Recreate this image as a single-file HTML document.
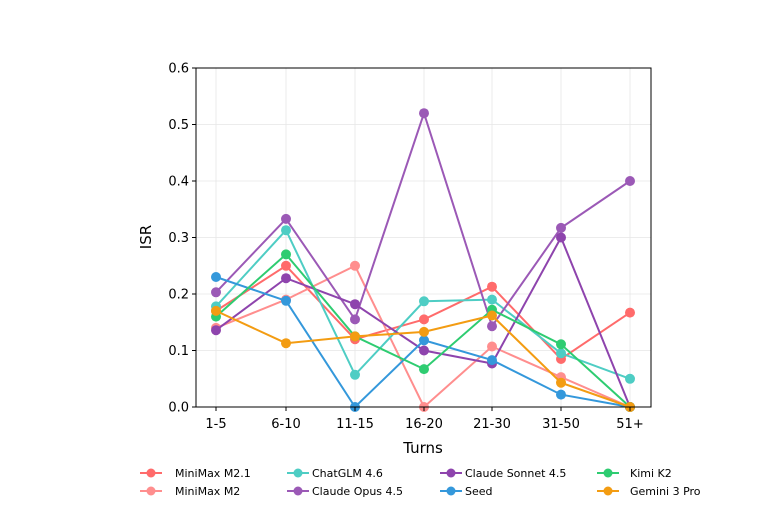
<!DOCTYPE html>
<html><head><meta charset="utf-8"><style>
html,body{margin:0;padding:0;background:#fff;}
svg{display:block;font-family:"DejaVu Sans","Liberation Sans",sans-serif;}
</style></head><body>
<svg id="c" width="762" height="526" viewBox="0 0 762 526" xmlns="http://www.w3.org/2000/svg"></svg>
<script>
const s=document.getElementById('c');
const L=196,R=651,T=68,B=407;
const xs=[216,286,355,424,492,561,630];
const Y=v=>B-v*565;
let h='';
for(const x of xs) h+=`<line x1="${x}" y1="${T}" x2="${x}" y2="${B}" stroke="#e6e6e6" stroke-width="0.8"/>`;
for(let i=0;i<=6;i++){const y=Y(i/10);h+=`<line x1="${L}" y1="${y}" x2="${R}" y2="${y}" stroke="#e6e6e6" stroke-width="0.8"/>`;}
const series=[
["MiniMax M2.1","#ff6b6b",[0.17,0.25,0.12,0.155,0.213,0.085,0.167]],
["MiniMax M2","#ff8e8e",[0.14,0.19,0.25,0.0,0.107,0.053,0.0]],
["ChatGLM 4.6","#4ecdc4",[0.178,0.313,0.057,0.187,0.19,0.095,0.05]],
["Claude Opus 4.5","#9b59b6",[0.203,0.333,0.155,0.52,0.143,0.317,0.4]],
["Claude Sonnet 4.5","#8e44ad",[0.136,0.228,0.182,0.1,0.077,0.3,0.0]],
["Seed","#3498db",[0.23,0.188,0.0,0.118,0.083,0.022,0.0]],
["Kimi K2","#2ecc71",[0.16,0.27,0.125,0.067,0.172,0.111,0.0]],
["Gemini 3 Pro","#f39c12",[0.17,0.113,0.125,0.133,0.162,0.043,0.0]]];
for(const [n,c,d] of series){
 h+=`<polyline fill="none" stroke="${c}" stroke-width="2" points="${d.map((v,i)=>xs[i]+','+Y(v).toFixed(1)).join(' ')}"/>`;
 for(let i=0;i<7;i++) h+=`<circle cx="${xs[i]}" cy="${Y(d[i]).toFixed(1)}" r="5" fill="${c}"/>`;
}
h+=`<rect x="${L}" y="${T}" width="${R-L}" height="${B-T}" fill="none" stroke="#000" stroke-width="1"/>`;
for(let i=0;i<=6;i++){const y=Y(i/10);h+=`<line x1="${L-4}" y1="${y}" x2="${L}" y2="${y}" stroke="#000"/><text x="${L-7}" y="${y+4.5}" text-anchor="end" font-size="13">${(i/10).toFixed(1)}</text>`;}
const lab=["1-5","6-10","11-15","16-20","21-30","31-50","51+"];
xs.forEach((x,i)=>{h+=`<line x1="${x}" y1="${B}" x2="${x}" y2="${B+4}" stroke="#000"/><text x="${x}" y="${B+21}" text-anchor="middle" font-size="13">${lab[i]}</text>`;});
h+=`<text x="423" y="453" text-anchor="middle" font-size="15">Turns</text>`;
h+=`<text transform="translate(151,237) rotate(-90)" text-anchor="middle" font-size="15">ISR</text>`;
const lx=[[140,175],[287,312],[440,465],[597,630]];
const order=[0,2,4,6,1,3,5,7];
order.forEach((si,k)=>{const col=k%4,row=Math.floor(k/4);const y=473+row*18;const [x0,tx]=lx[col];const [n,c]=series[si];
 h+=`<line x1="${x0}" y1="${y}" x2="${x0+22}" y2="${y}" stroke="${c}" stroke-width="2"/><circle cx="${x0+11}" cy="${y}" r="4.5" fill="${c}"/><text x="${tx}" y="${y+4}" font-size="11">${n}</text>`;});
s.innerHTML=h;
</script>
</body></html>
